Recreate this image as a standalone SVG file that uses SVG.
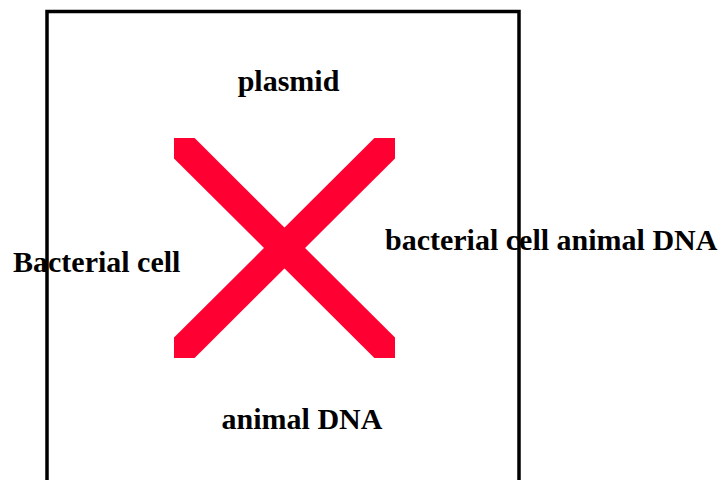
<svg xmlns="http://www.w3.org/2000/svg" width="719" height="480" viewBox="0 0 719 480">
<style>
.lbl{font-family:"Liberation Serif","Times New Roman",serif;font-weight:bold;font-size:30px;fill:#000}
.bar{stroke:#FF0033;stroke-width:29;fill:none}
</style>
<defs><clipPath id="xc"><rect x="174" y="138" width="221" height="220"/></clipPath></defs>
<rect width="719" height="480" fill="#fff"/>
<g id="frame"><rect x="47" y="11.5" width="472" height="480" fill="none" stroke="#000" stroke-width="3.5"/></g>
<g id="cross" clip-path="url(#xc)">
<line class="bar" x1="164" y1="128" x2="405" y2="368"/>
<line class="bar" x1="405" y1="128" x2="164" y2="368"/>
</g>
<g id="plasmid"><text class="lbl" x="288.5" y="90.5" text-anchor="middle">plasmid</text></g>
<g id="bacterial-cell"><text class="lbl" x="13" y="272">Bacterial cell</text></g>
<g id="bacterial-cell-animal-dna"><text class="lbl" x="385" y="249.5">bacterial cell animal DNA</text></g>
<g id="animal-dna"><text class="lbl" x="302" y="429" text-anchor="middle">animal DNA</text></g>
</svg>
